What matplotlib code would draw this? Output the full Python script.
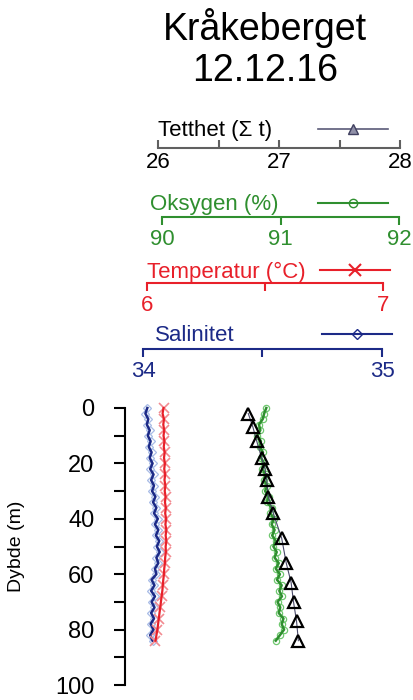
import matplotlib
matplotlib.use("Agg")
import matplotlib.pyplot as plt
from matplotlib.lines import Line2D

plt.rcParams['font.family'] = ['Liberation Sans', 'DejaVu Sans']

# CTD profile, Kråkeberget 12.12.16
depth = list(range(0, 86, 2))
salinity = [34.018, 34.010, 34.022, 34.016, 34.028, 34.020, 34.032, 34.024, 34.036, 34.028,
            34.040, 34.030, 34.044, 34.034, 34.046, 34.038, 34.052, 34.042, 34.056, 34.046,
            34.062, 34.050, 34.064, 34.054, 34.068, 34.058, 34.070, 34.056, 34.064, 34.050,
            34.056, 34.036, 34.048, 34.034, 34.050, 34.036, 34.048, 34.034, 34.046, 34.032,
            34.044, 34.030, 34.040]
temperature = [6.070, 6.066, 6.072, 6.069, 6.073, 6.070, 6.074, 6.071, 6.075, 6.072,
               6.076, 6.073, 6.077, 6.074, 6.078, 6.075, 6.079, 6.076, 6.080, 6.077,
               6.081, 6.078, 6.082, 6.079, 6.082, 6.079, 6.080, 6.077, 6.076, 6.073,
               6.072, 6.069, 6.067, 6.065, 6.062, 6.059, 6.056, 6.053, 6.050, 6.047,
               6.044, 6.040, 6.036]
oxygen = [90.880, 90.862, 90.850, 90.818, 90.830, 90.805, 90.835, 90.825, 90.852, 90.835,
          90.862, 90.845, 90.875, 90.860, 90.890, 90.870, 90.900, 90.885, 90.925, 90.915,
          90.945, 90.925, 90.950, 90.930, 90.960, 90.940, 90.968, 90.950, 90.985, 90.960,
          90.995, 90.970, 91.010, 90.990, 91.012, 90.975, 90.998, 90.985, 91.025, 91.010,
          91.030, 90.995, 90.960]
dens_depth = [2, 7, 12, 18, 22, 26, 32, 38, 47, 56, 63, 70, 77, 84]
density = [26.746, 26.785, 26.816, 26.857, 26.884, 26.898, 26.912, 26.953, 27.022,
           27.06, 27.10, 27.12, 27.145, 27.16]

W, H = 414, 700
bottom = 1 - 685 / H
height = 277 / H

fig = plt.figure(figsize=(4.14, 7), dpi=100)
fig.text(0.64, 0.988, "Kråkeberget\n12.12.16", ha='center', va='top',
         fontsize=27, linespacing=1.15)

# depth axis
ax = fig.add_axes([125 / W, bottom, 0.58, height])
ax.patch.set_visible(False)
ax.set_ylim(100, 0)
ax.set_yticks(range(0, 101, 10))
ax.set_yticklabels([str(v) if v % 20 == 0 else '' for v in range(0, 101, 10)])
ax.set_xticks([])
for s in ['top', 'right', 'bottom']:
    ax.spines[s].set_visible(False)
ax.spines['left'].set_linewidth(1.5)
ax.tick_params(axis='y', length=8, width=1.5, labelsize=17, pad=14)
ax.set_ylabel("Dybde (m)", fontsize=14)
ax.yaxis.set_label_coords(-0.415, 0.5)


def scale_axes(x0, x1, lim, ticks, labels, bar_px, color, label_color, direction):
    a = fig.add_axes([x0 / W, bottom, (x1 - x0) / W, height])
    a.patch.set_visible(False)
    a.set_xlim(lim)
    a.set_ylim(100, 0)
    a.set_yticks([])
    for s in ['top', 'left', 'right']:
        a.spines[s].set_visible(False)
    a.spines['bottom'].set_position(('axes', (685 - bar_px) / 277))
    a.spines['bottom'].set_color(color)
    a.spines['bottom'].set_linewidth(1.5)
    a.set_xticks(ticks)
    a.set_xticklabels(labels)
    a.tick_params(axis='x', colors=color, labelcolor=label_color, direction=direction,
                  length=6, width=1.5, labelsize=16, pad=3)
    return a


def key(a, text, tx, handle, hx, y_px, color):
    yf = (685 - y_px) / 277
    a.text(tx, yf, text, transform=a.transAxes, color=color, fontsize=16,
           ha='left', va='center')
    a.legend(handles=[handle], labels=[''], loc='center left', bbox_to_anchor=(hx, yf),
             frameon=False, borderpad=0, borderaxespad=0, handlelength=3.15,
             handletextpad=0, fontsize=16)


navy = '#1c2a87'
red = '#e8202a'
green = '#2f8f2f'

# salinity
a_sal = scale_axes(143, 382, (34, 35), [34, 34.5, 35], ['34', '', '35'], 349,
                   navy, navy, 'out')
a_sal.plot(salinity, depth, ls='none', marker='D', ms=4.5, mfc='none',
           mec='#a8bce6', mew=0.9, clip_on=False)
a_sal.plot(salinity, depth, color=navy, lw=1.8, clip_on=False)
key(a_sal, "Salinitet", 0.05,
    Line2D([], [], color=navy, lw=1.5, marker='D', ms=5, mfc='none', mec=navy),
    0.749, 336, navy)

# temperature
a_tmp = scale_axes(147, 383, (6, 7), [6, 6.5, 7], ['6', '', '7'], 283,
                   red, red, 'out')
a_tmp.plot(temperature, depth, ls='none', marker='x', ms=7, mec='#f28a90',
           mew=1.2, markevery=2, clip_on=False)
a_tmp.plot(temperature, depth, color=red, lw=1.6, clip_on=False)
key(a_tmp, "Temperatur (°C)", 0.0,
    Line2D([], [], color=red, lw=1.5, marker='x', ms=8, mew=1.5),
    0.733, 272, red)

# oxygen
a_oxy = scale_axes(162, 399, (90, 92), [90, 91, 92], ['90', '91', '92'], 217,
                   green, green, 'out')
a_oxy.plot(oxygen, depth, ls='none', marker='o', ms=4.5, mfc='none',
           mec='#70c870', mew=0.9, clip_on=False)
a_oxy.plot(oxygen, depth, color=green, lw=1.8, clip_on=False)
key(a_oxy, "Oksygen (%)", -0.05,
    Line2D([], [], color=green, lw=1.5, marker='o', ms=6, mfc='none', mec=green),
    0.658, 205, green)

# density
a_den = scale_axes(158, 400, (26, 28), [26, 26.5, 27, 27.5, 28], ['26', '', '27', '', '28'],
                   148, '#606060', 'black', 'in')
a_den.plot(density, dens_depth, color='#4a4a6a', lw=0.8, marker='^', ms=8, mfc='none',
           mec='black', mew=1.6, clip_on=False)
key(a_den, "Tetthet (Σ t)", 0.0,
    Line2D([], [], color='#5a5a78', lw=1.2, marker='^', ms=7, mfc='#9090a8', mec='#404060'),
    0.661, 131, 'black')

fig.savefig("out.png", dpi=100)
